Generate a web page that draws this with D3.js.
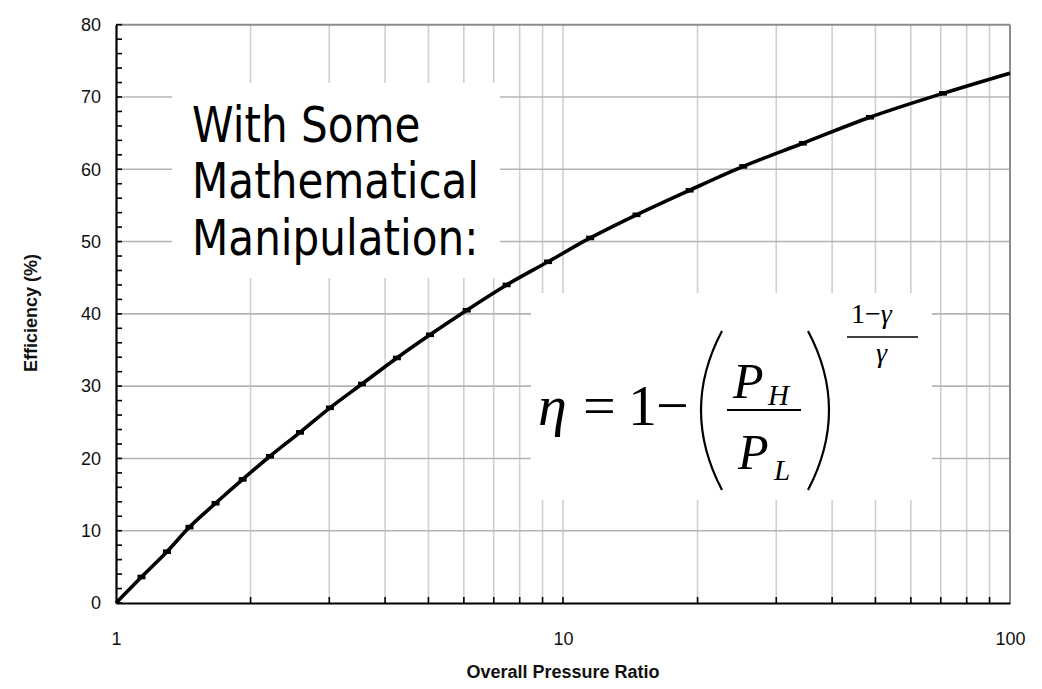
<!DOCTYPE html>
<html>
<head>
<meta charset="utf-8">
<script src="https://cdn.jsdelivr.net/npm/d3@7"></script>
<style>
  html, body { margin: 0; padding: 0; background: #fff; }
  svg { display: block; }
</style>
</head>
<body>
<svg id="chart" width="1042" height="689"></svg>
<script>
// Brayton cycle efficiency against overall pressure ratio
const pressureRatio = [1, 1.14, 1.30, 1.46, 1.67, 1.92, 2.21, 2.58, 3.01, 3.55, 4.25, 5.04, 6.09, 7.48, 9.26, 11.5, 14.6, 19.2, 25.3, 34.4, 48.6, 70.8, 100];
const efficiency    = [0, 3.6, 7.1, 10.5, 13.8, 17.1, 20.3, 23.6, 27.0, 30.3, 33.9, 37.1, 40.5, 44.0, 47.2, 50.5, 53.7, 57.1, 60.4, 63.6, 67.2, 70.5, 73.3];

const xTickValues = [1, 10, 100];
const xTickLabels = ["1", "10", "100"];
const yTickValues = [0, 10, 20, 30, 40, 50, 60, 70, 80];
const yMinorValues = d3.range(0, 81, 2);
const xGridValues = [2, 3, 4, 5, 6, 7, 8, 9, 10, 20, 30, 40, 50, 60, 70, 80, 90];

const xTitle = "Overall Pressure Ratio";
const yTitle = "Efficiency (%)";
const noteLines = ["With Some", "Mathematical", "Manipulation:"];

const svg = d3.select("#chart");
const plotLeft = 116, plotRight = 1010, plotTop = 24.7, plotBottom = 603;

const x = d3.scaleLog().domain([1, 100]).range([plotLeft, plotRight]);
const y = d3.scaleLinear().domain([0, 80]).range([plotBottom, plotTop]);

// gridlines
const grid = svg.append("g");
grid.append("g").selectAll("line").data(xGridValues).join("line")
  .attr("x1", d => x(d)).attr("x2", d => x(d))
  .attr("y1", plotTop).attr("y2", plotBottom)
  .attr("stroke", "#cfcfcf").attr("stroke-width", 1.6);
grid.append("g").selectAll("line").data(yTickValues.filter(v => v > 0 && v < 80)).join("line")
  .attr("x1", plotLeft).attr("x2", plotRight)
  .attr("y1", d => y(d)).attr("y2", d => y(d))
  .attr("stroke", "#b4b4b4").attr("stroke-width", 1.6);

// white panels behind the annotations
svg.append("rect").attr("x", 172).attr("y", 83).attr("width", 328).attr("height", 195).attr("fill", "#fff");
svg.append("rect").attr("x", 531).attr("y", 293).attr("width", 401).attr("height", 207).attr("fill", "#fff");

// frame: top and right in grey, left and bottom in black
svg.append("line").attr("x1", plotLeft).attr("x2", plotRight).attr("y1", plotTop).attr("y2", plotTop)
  .attr("stroke", "#8c8c8c").attr("stroke-width", 2);
svg.append("line").attr("x1", plotRight).attr("x2", plotRight).attr("y1", plotTop).attr("y2", plotBottom)
  .attr("stroke", "#8c8c8c").attr("stroke-width", 2);

// minor ticks pointing inward
svg.append("g").selectAll("line").data(yMinorValues).join("line")
  .attr("x1", plotLeft).attr("x2", plotLeft + 6)
  .attr("y1", d => y(d)).attr("y2", d => y(d))
  .attr("stroke", "#000").attr("stroke-width", 1.6);
svg.append("g").selectAll("line").data(xGridValues).join("line")
  .attr("x1", d => x(d)).attr("x2", d => x(d))
  .attr("y1", plotBottom).attr("y2", plotBottom - 6)
  .attr("stroke", "#000").attr("stroke-width", 1.6);

// axes
const yAxis = svg.append("g").attr("transform", `translate(${plotLeft},0)`)
  .call(d3.axisLeft(y).tickValues(yTickValues).tickSize(0).tickPadding(15));
const xAxis = svg.append("g").attr("transform", `translate(0,${plotBottom})`)
  .call(d3.axisBottom(x).tickValues(xTickValues).tickSize(0).tickPadding(29)
    .tickFormat((d, i) => xTickLabels[i]));
[yAxis, xAxis].forEach(g => {
  g.select(".domain").attr("stroke", "#000").attr("stroke-width", 2.2);
  g.selectAll("text").attr("font-family", "Liberation Sans, Arial, sans-serif")
    .attr("font-size", 18).attr("fill", "#111");
});

// axis titles
svg.append("text").attr("x", (plotLeft + plotRight) / 2).attr("y", 678)
  .attr("text-anchor", "middle").attr("font-family", "Liberation Sans, Arial, sans-serif")
  .attr("font-weight", "bold").attr("font-size", 18).attr("fill", "#111").text(xTitle);
svg.append("text").attr("transform", "translate(37,313) rotate(-90)")
  .attr("text-anchor", "middle").attr("font-family", "Liberation Sans, Arial, sans-serif")
  .attr("font-weight", "bold").attr("font-size", 18).attr("fill", "#111").text(yTitle);

// efficiency curve
const pts = pressureRatio.map((r, i) => [r, efficiency[i]]);
svg.append("path").datum(pts)
  .attr("fill", "none").attr("stroke", "#000").attr("stroke-width", 3.6)
  .attr("stroke-linejoin", "round")
  .attr("d", d3.line().x(d => x(d[0])).y(d => y(d[1])).curve(d3.curveMonotoneX));
svg.append("g").selectAll("rect").data(pts.slice(1, -1)).join("rect")
  .attr("x", d => x(d[0]) - 4).attr("y", d => y(d[1]) - 2.3)
  .attr("width", 8).attr("height", 4.6).attr("fill", "#000");

// annotation text
const note = svg.append("g").attr("transform", "translate(192,0) scale(0.86,1)");
note.selectAll("text").data(noteLines).join("text")
  .attr("x", 0).attr("y", (d, i) => 142 + i * 56.5)
  .attr("font-family", "DejaVu Sans, Verdana, sans-serif").attr("font-size", 49)
  .attr("fill", "#000").text(d => d);

// efficiency formula
const serif = "Liberation Serif, Times New Roman, serif";
const eq = svg.append("g").attr("font-family", serif).attr("fill", "#000");
eq.append("text").attr("x", 538).attr("y", 425).attr("font-size", 58).attr("font-style", "italic").text("η");
eq.append("text").attr("x", 583).attr("y", 425).attr("font-size", 58).text("=");
eq.append("text").attr("x", 628).attr("y", 425).attr("font-size", 58).text("1");
eq.append("text").attr("x", 656).attr("y", 425).attr("font-size", 58).text("−");
eq.append("path").attr("d", "M722,331 Q680,410 722,490").attr("fill", "none").attr("stroke", "#000").attr("stroke-width", 2.2);
eq.append("path").attr("d", "M808,331 Q850,410 808,490").attr("fill", "none").attr("stroke", "#000").attr("stroke-width", 2.2);
eq.append("text").attr("x", 733).attr("y", 398).attr("font-size", 50).attr("font-style", "italic").text("P");
eq.append("text").attr("x", 768).attr("y", 405).attr("font-size", 29).attr("font-style", "italic").text("H");
eq.append("line").attr("x1", 727).attr("x2", 801).attr("y1", 410).attr("y2", 410).attr("stroke", "#000").attr("stroke-width", 2.2);
eq.append("text").attr("x", 738).attr("y", 469).attr("font-size", 50).attr("font-style", "italic").text("P");
eq.append("text").attr("x", 774).attr("y", 480).attr("font-size", 29).attr("font-style", "italic").text("L");
const expTop = eq.append("text").attr("x", 851).attr("y", 323).attr("font-size", 28);
expTop.append("tspan").text("1−");
expTop.append("tspan").attr("font-style", "italic").text("γ");
eq.append("line").attr("x1", 847).attr("x2", 918).attr("y1", 337).attr("y2", 337).attr("stroke", "#000").attr("stroke-width", 1.5);
eq.append("text").attr("x", 876).attr("y", 362).attr("font-size", 28).attr("font-style", "italic").text("γ");
</script>
</body>
</html>
